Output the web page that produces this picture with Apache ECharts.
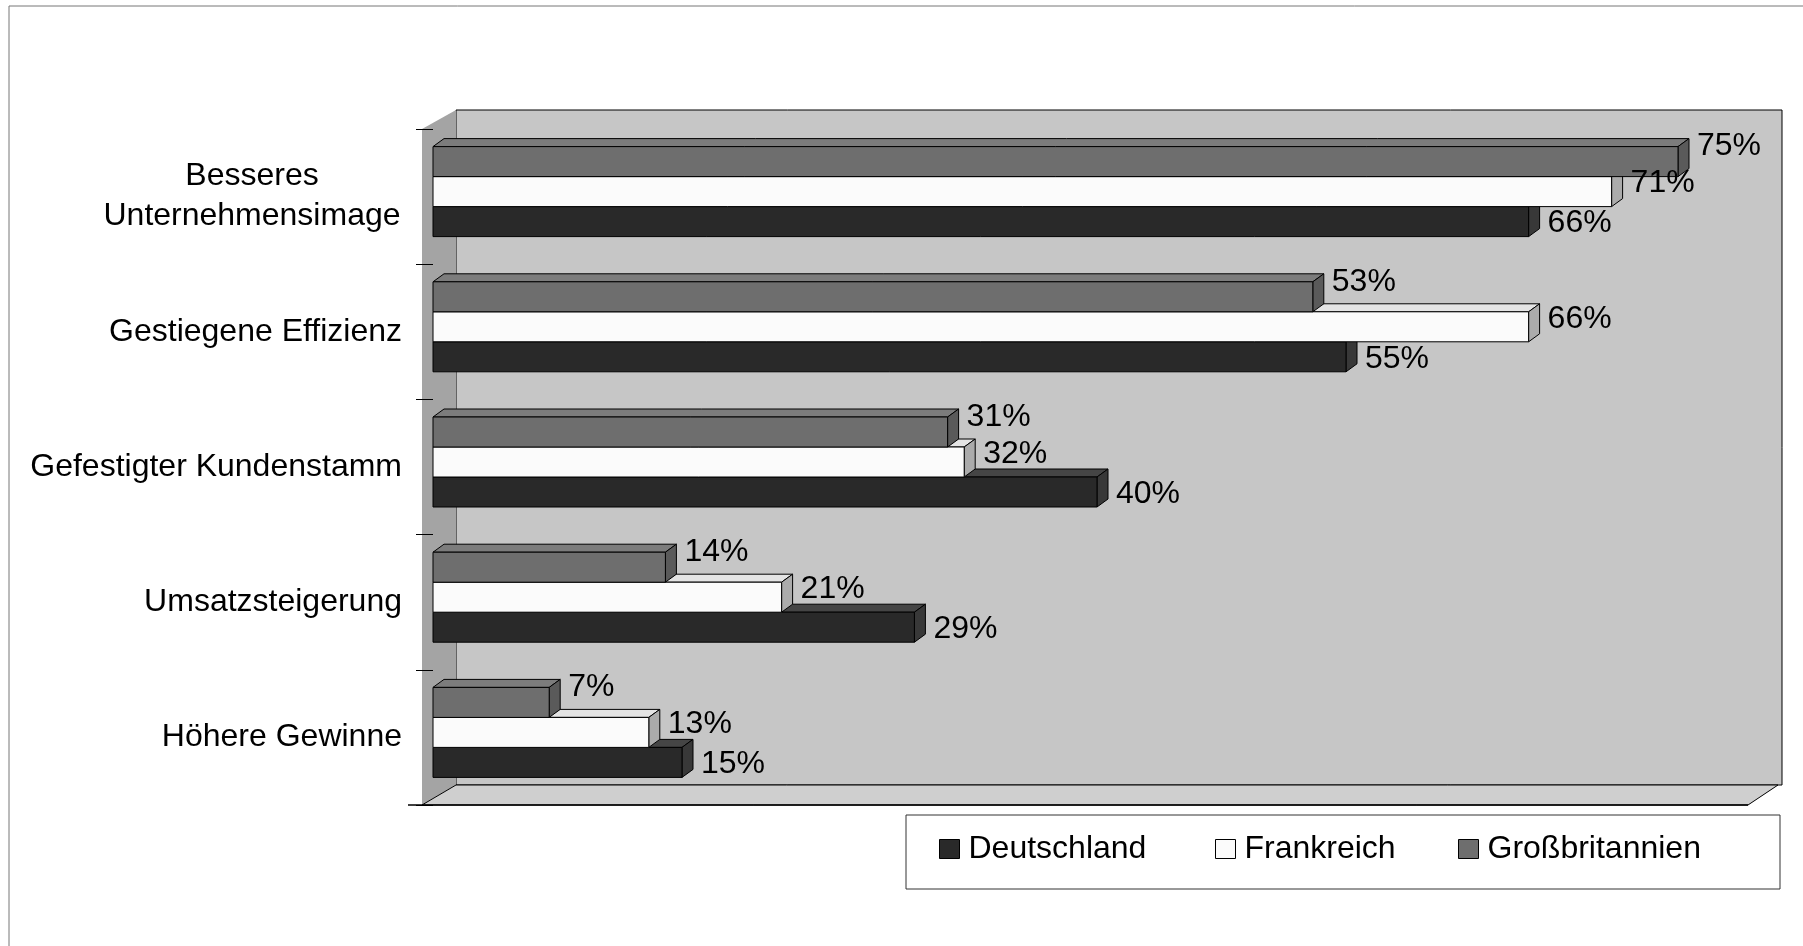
<!DOCTYPE html>
<html>
<head>
<meta charset="UTF-8">
<title>Vorteile</title>
<script src="https://cdn.jsdelivr.net/npm/echarts@6/dist/echarts.min.js"></script>
<style>
  html, body { margin: 0; padding: 0; background: #fff; }
  #chart { width: 1803px; height: 946px; }
</style>
</head>
<body>
<div id="chart"></div>
<script>
// data (percent)
var categories = ['Besseres\nUnternehmensimage', 'Gestiegene Effizienz', 'Gefestigter Kundenstamm', 'Umsatzsteigerung', 'Höhere Gewinne'];
var deutschland = [66, 55, 40, 29, 15];
var frankreich = [71, 66, 32, 21, 13];
var grossbritannien = [75, 53, 31, 14, 7];
var seriesNames = ['Deutschland', 'Frankreich', 'Großbritannien'];

var FONT = '"Liberation Sans", Arial, sans-serif';
var FS = 32;

// layout of the fake 3d box
var GRID_LEFT = 433, GRID_TOP = 129, GRID_H = 676, GRID_RIGHT = 42;
var BAR_H = 30, DX = 11, DY = 8, GROUP_SHIFT = -5;

var faces = {
    'Deutschland': { front: '#292929', top: '#454545', side: '#383838', slot: 2, labelDy: 17 },
    'Frankreich': { front: '#fbfbfb', top: '#e4e4e4', side: '#ababab', slot: 1, labelDy: 7 },
    'Großbritannien': { front: '#6e6e6e', top: '#7c7c7c', side: '#5a5a5a', slot: 0, labelDy: 0 }
};

function makeRender(name) {
    var f = faces[name];
    return function (params, api) {
        var v = api.value(0);
        var p0 = api.coord([0, api.value(1)]);
        var p1 = api.coord([v, api.value(1)]);
        var x0 = p0[0], x1 = p1[0];
        var y0 = p0[1] - 1.5 * BAR_H + GROUP_SHIFT + f.slot * BAR_H;
        return {
            type: 'group',
            children: [
                { type: 'polygon', shape: { points: [[x0, y0], [x0 + DX, y0 - DY], [x1 + DX, y0 - DY], [x1, y0]] },
                  style: { fill: f.top, stroke: '#000', lineWidth: 1 } },
                { type: 'polygon', shape: { points: [[x1, y0], [x1 + DX, y0 - DY], [x1 + DX, y0 + BAR_H - DY], [x1, y0 + BAR_H]] },
                  style: { fill: f.side, stroke: '#000', lineWidth: 1 } },
                { type: 'rect', shape: { x: x0, y: y0, width: x1 - x0, height: BAR_H },
                  style: { fill: f.front, stroke: '#000', lineWidth: 1 } },
                { type: 'text', z2: 10,
                  style: { text: v + '%', x: x1 + DX + 8, y: y0 + f.labelDy, verticalAlign: 'middle', align: 'left',
                           font: FS + 'px ' + FONT, fill: '#000' } }
            ]
        };
    };
}

function seriesData(vals) {
    return categories.map(function (c, i) { return [vals[i], c]; });
}

var valuesByName = {
    'Deutschland': deutschland,
    'Frankreich': frankreich,
    'Großbritannien': grossbritannien
};

var legendX = [939, 1215, 1458];

var chart = echarts.init(document.getElementById('chart'));

var option = {
    backgroundColor: '#fff',
    animation: false,
    grid: { left: GRID_LEFT, top: GRID_TOP, height: GRID_H, right: GRID_RIGHT, show: false },
    xAxis: {
        type: 'value', min: 0, max: 80,
        axisLine: { show: false }, axisTick: { show: false }, axisLabel: { show: false }, splitLine: { show: false }
    },
    yAxis: {
        type: 'category',
        data: categories,
        inverse: true,
        offset: 8,
        axisLine: { show: false },
        axisTick: { show: true, length: 17, lineStyle: { color: '#000', width: 1 } },
        axisLabel: {
            margin: 23,
            fontSize: FS,
            fontFamily: FONT,
            color: '#000',
            formatter: function (v) {
                if (v.indexOf('\n') < 0) return v;
                return v.split('\n').map(function (s) { return '{c|' + s + '}'; }).join('\n');
            },
            rich: {
                c: { width: 300, align: 'center', fontSize: FS, fontFamily: FONT, color: '#000', lineHeight: 40 }
            }
        },
        splitLine: { show: false }
    },
    legend: seriesNames.map(function (n, i) {
        return {
            data: [n],
            left: legendX[i],
            top: 833,
            padding: 0,
            icon: 'rect',
            itemWidth: 20,
            itemHeight: 19,
            itemStyle: { borderColor: '#000', borderWidth: 1 },
            textStyle: { fontSize: FS, fontFamily: FONT, color: '#000', padding: [0, 0, 0, 4] }
        };
    }),
    graphic: [
        // outer frame
        { type: 'polyline', shape: { points: [[9, 946], [9, 6], [1803, 6]] }, style: { stroke: '#777', lineWidth: 1, fill: null } },
        // back wall
        { type: 'polygon', shape: { points: [[456, 110], [1782, 110], [1782, 785], [456, 785]] },
          style: { fill: '#c6c6c6', stroke: '#000', lineWidth: 1 } },
        // side wall
        { type: 'polygon', shape: { points: [[422, 129], [456, 110], [456, 785], [422, 805]] },
          style: { fill: '#a4a4a4', stroke: null } },
        // floor
        { type: 'polygon', shape: { points: [[422, 805], [456, 785], [1778, 785], [1748, 805]] },
          style: { fill: '#cfcfcf', stroke: '#000', lineWidth: 1 } },
        { type: 'line', shape: { x1: 408, y1: 805, x2: 1748, y2: 805 }, style: { stroke: '#000', lineWidth: 1.5 } },
        // legend box
        { type: 'rect', shape: { x: 906, y: 815, width: 874, height: 74 }, style: { fill: '#fff', stroke: '#333', lineWidth: 1 } }
    ],
    series: seriesNames.map(function (n) {
        return {
            name: n,
            type: 'custom',
            itemStyle: { color: faces[n].front },
            encode: { x: 0, y: 1 },
            renderItem: makeRender(n),
            data: seriesData(valuesByName[n])
        };
    })
};

chart.setOption(option);
</script>
</body>
</html>
